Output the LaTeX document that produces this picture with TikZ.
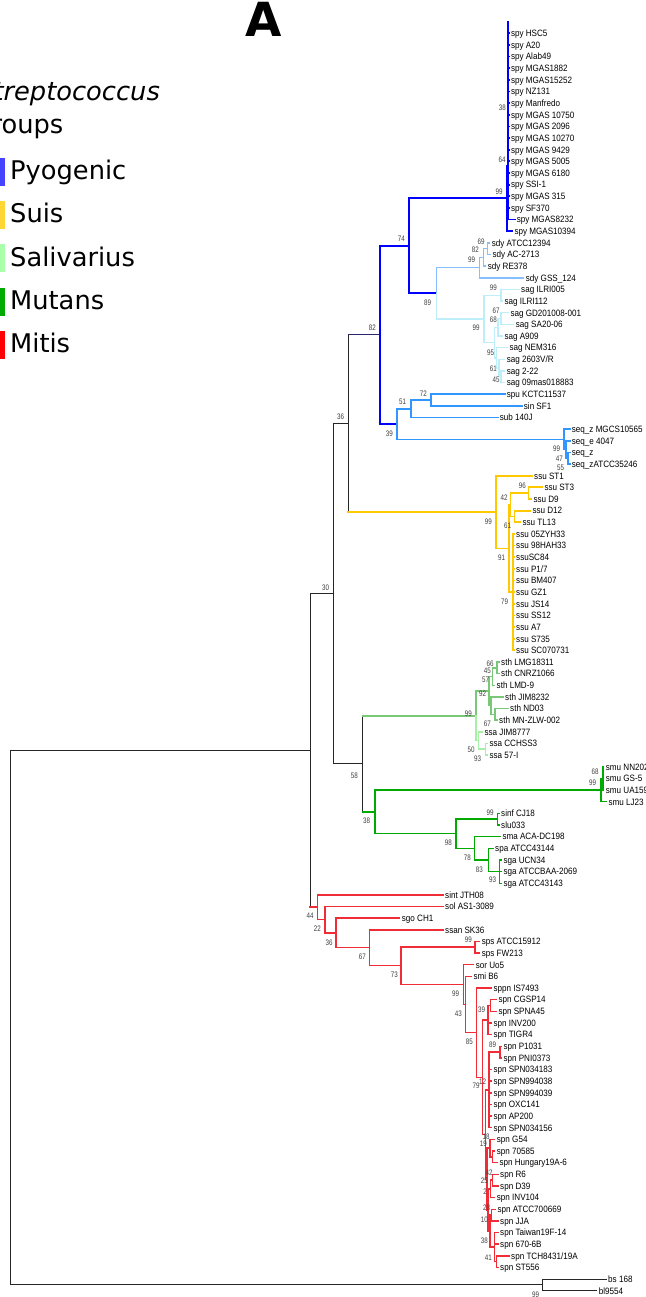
\documentclass[tikz,border=0pt]{standalone}
\usepackage{fontspec}
\setmainfont{DejaVu Sans}
\newfontfamily\leaffont[FakeStretch=0.88]{Liberation Sans}
\newfontfamily\bsfont[FakeStretch=0.78]{Liberation Sans}
\definecolor{cpyo}{RGB}{0,0,255}
\definecolor{cnavy}{RGB}{40,40,110}
\definecolor{csdy}{RGB}{135,190,255}
\definecolor{csag}{RGB}{190,238,250}
\definecolor{cseq}{RGB}{50,150,255}
\definecolor{cssu}{RGB}{255,200,0}
\definecolor{csth}{RGB}{120,200,120}
\definecolor{cssa}{RGB}{165,240,165}
\definecolor{cmut}{RGB}{0,170,0}
\definecolor{cmit}{RGB}{240,45,55}
\definecolor{lgpyo}{RGB}{68,68,255}
\definecolor{lgsui}{RGB}{255,214,51}
\definecolor{lgsal}{RGB}{170,255,170}
\definecolor{lgmut}{RGB}{0,170,0}
\definecolor{lgmit}{RGB}{255,0,0}
\newcommand\LY[1]{(33.3+(#1-1)*11.643)}
\newcommand\tedge[4]{\draw[#3] (#1) -- (#1 |- #2); \draw[#4] (#1 |- #2) -- (#2);}
\newcommand\tleaf[6]{\coordinate (#2) at (#4,{\LY{#3}}); \tedge{#1}{#2}{#5}{#5} \node[lf] (#2-l) at (#2) {#6};}
\newcommand\bsl[3]{\node[bsn] (#1) at (#2) {#3};}
\begin{document}
\begin{tikzpicture}[x=1pt,y=-1pt,
 blk/.style={draw=black!85, line width=1pt, line cap=rect},
 pyo/.style={draw=cpyo, line width=1.8pt, line cap=rect},
 navy/.style={draw=cnavy, line width=1pt, line cap=rect},
 sdy/.style={draw=csdy, line width=1.4pt, line cap=rect},
 sag/.style={draw=csag, line width=1.4pt, line cap=rect},
 seqc/.style={draw=cseq, line width=1.8pt, line cap=rect},
 ssu/.style={draw=cssu, line width=1.8pt, line cap=rect},
 sth/.style={draw=csth, line width=1.5pt, line cap=rect},
 ssa/.style={draw=cssa, line width=1.5pt, line cap=rect},
 mut/.style={draw=cmut, line width=1.4pt, line cap=rect},
 mit/.style={draw=cmit, line width=1.4pt, line cap=rect},
 lf/.style={anchor=west, inner sep=0pt, xshift=2pt, font=\leaffont\fontsize{9.2}{10}\selectfont, text height=6.6pt, text depth=0pt},
 bsn/.style={inner sep=0pt, font=\bsfont\fontsize{8}{8}\selectfont, text height=5.7pt, text depth=0pt, text=black!75},
 legt/.style={anchor=base west, inner sep=0pt, font=\fontsize{25.7}{30}\selectfont},
]
\useasboundingbox (0,0) rectangle (645,1297);
\clip (0,0) rectangle (645,1297);
% ---------- title and legend
\node[anchor=base, inner sep=0pt, font=\bfseries\fontsize{47}{47}\selectfont] (ttl) at (263.5,37) {A};
\node[legt, font=\itshape\fontsize{25.7}{30}\selectfont] (lg0) at (-23,101) {Streptococcus};
\node[legt] (lg00) at (-25,134) {groups};
\fill[lgpyo] (-23,158) rectangle (5,186);
\fill[lgsui] (-23,201) rectangle (5,229);
\fill[lgsal] (-23,244) rectangle (5,272);
\fill[lgmut] (-23,288) rectangle (5,316);
\fill[lgmit] (-23,331) rectangle (5,359);
\node[legt] (lg1) at (10,180) {Pyogenic};
\node[legt] (lg2) at (10,223) {Suis};
\node[legt] (lg3) at (10,266) {Salivarius};
\node[legt] (lg4) at (10,309) {Mutans};
\node[legt] (lg5) at (10,352) {Mitis};
% ---------- internal nodes
\coordinate (root) at (10,1017.6);
\coordinate (out) at (542.3,1284.8);
\coordinate (ing) at (310,750.4);
\coordinate (n30) at (333,593.7);
\coordinate (n36) at (348.3,423.5);
\coordinate (n82) at (380,334.95);
\coordinate (n74) at (409,245.8);
\coordinate (spy99) at (506.7,198.3);
\coordinate (spyM) at (507.7,165.9);
\coordinate (spyTop) at (507.7,21.7);
\coordinate (n89) at (436.3,293.3);
\coordinate (sdy99) at (479.3,267.6);
\coordinate (n82s) at (483.3,257.45);
\coordinate (n69s) at (487.7,248.7);
\coordinate (sag99) at (484,318.9);
\coordinate (sagA) at (501,295.3);
\coordinate (sagB) at (494.5,342.55);
\coordinate (n68s) at (498,327.3);
\coordinate (n67s) at (501,318.55);
\coordinate (n95s) at (496.5,357.8);
\coordinate (n61s) at (499,368.0);
\coordinate (n45s) at (501,376.75);
\coordinate (n39) at (397.3,424.1);
\coordinate (n51) at (410.7,408.75);
\coordinate (n72) at (431,400);
\coordinate (seqR) at (564.3,439.4);
\coordinate (n99q) at (566,449.55);
\coordinate (n47q) at (568,458.3);
\coordinate (ssu99) at (495.7,512.1);
\coordinate (n91) at (509,548.45);
\coordinate (n42u) at (510.5,504.8);
\coordinate (n96) at (528.5,493.15);
\coordinate (n61u) at (514.5,516.4);
\coordinate (n79u) at (513.2,592.1);
\coordinate (n58) at (362.3,763.85);
\coordinate (S99) at (476,715.8);
\coordinate (n57) at (489,691.05);
\coordinate (n45h) at (492.5,676.5);
\coordinate (n66) at (497,667.75);
\coordinate (n92) at (491,705.6);
\coordinate (n67h) at (495,714.3);
\coordinate (n50) at (478.5,740.5);
\coordinate (n93s) at (485.5,749.2);
\coordinate (n38) at (375,811.9);
\coordinate (smu99) at (601,790.1);
\coordinate (smu68) at (603,778.45);
\coordinate (n98) at (456,833.7);
\coordinate (sinf99) at (497.3,819.15);
\coordinate (n78) at (474.3,848.25);
\coordinate (n83) at (488.3,859.9);
\coordinate (n93g) at (499.3,871.55);
\coordinate (n44m) at (317.3,907.1);
\coordinate (n22m) at (325,919.55);
\coordinate (n36m) at (336,932.8);
\coordinate (n67m) at (369.3,947.65);
\coordinate (n73) at (401,965.7);
\coordinate (sps99) at (475,947.05);
\coordinate (n99m) at (463.3,984.4);
\coordinate (n43m) at (465.7,1004.35);
\coordinate (n85) at (476.7,1032.6);
\coordinate (n79m) at (482.5,1077.25);
\coordinate (n39m) at (488,1020.05);
\coordinate (nCS) at (490.5,1005.5);
\coordinate (n12m) at (485.3,1134.45);
\coordinate (n89m) at (488.8,1089.9);
\coordinate (nP) at (500,1052.05);
\coordinate (n19m) at (486.8,1179);
\coordinate (n18) at (490,1148.05);
\coordinate (nH) at (492.3,1156.8);
\coordinate (n2m) at (488,1209.9);
\coordinate (n25m) at (490.3,1188.8);
\coordinate (n42m) at (492.5,1180.05);
\coordinate (n10m) at (489.8,1231);
\coordinate (n28m) at (491.5,1215);
\coordinate (n38m) at (494.5,1247);
\coordinate (n41m) at (496.5,1261.5);
% ---------- internal edges
\tedge{root}{ing}{blk}{blk}
\tedge{root}{out}{blk}{blk}
\tedge{ing}{n30}{blk}{blk}
\tedge{ing}{n44m}{blk}{mit}
\tedge{n30}{n36}{blk}{blk}
\tedge{n30}{n58}{blk}{blk}
\tedge{n36}{n82}{blk}{navy}
\tedge{n36}{ssu99}{blk}{ssu}
\tedge{n82}{n74}{pyo}{pyo}
\tedge{n82}{n39}{pyo}{pyo}
\tedge{n74}{spy99}{pyo}{pyo}
\tedge{n74}{n89}{pyo}{pyo}
\tedge{spy99}{spyM}{pyo}{pyo}
\draw[pyo] (spyM) -- (spyTop);
\tedge{n89}{sdy99}{sdy}{sdy}
\tedge{n89}{sag99}{sag}{sag}
\tedge{sdy99}{n82s}{sdy}{sdy}
\tedge{n82s}{n69s}{sdy}{sdy}
\tedge{sag99}{sagA}{sag}{sag}
\tedge{sag99}{sagB}{sag}{sag}
\tedge{sagB}{n68s}{sag}{sag}
\tedge{sagB}{n95s}{sag}{sag}
\tedge{n68s}{n67s}{sag}{sag}
\tedge{n95s}{n61s}{sag}{sag}
\tedge{n61s}{n45s}{sag}{sag}
\tedge{n39}{n51}{seqc}{seqc}
\tedge{n39}{seqR}{seqc}{seqc}
\tedge{n51}{n72}{seqc}{seqc}
\tedge{seqR}{n99q}{seqc}{seqc}
\tedge{n99q}{n47q}{seqc}{seqc}
\tedge{ssu99}{n91}{ssu}{ssu}
\tedge{n91}{n42u}{ssu}{ssu}
\tedge{n91}{n79u}{ssu}{ssu}
\tedge{n42u}{n96}{ssu}{ssu}
\tedge{n42u}{n61u}{ssu}{ssu}
\tedge{n58}{S99}{blk}{sth}
\tedge{n58}{n38}{blk}{mut}
\tedge{S99}{n57}{sth}{sth}
\tedge{S99}{n50}{ssa}{ssa}
\tedge{n57}{n45h}{sth}{sth}
\tedge{n57}{n92}{sth}{sth}
\tedge{n45h}{n66}{sth}{sth}
\tedge{n92}{n67h}{sth}{sth}
\tedge{n50}{n93s}{ssa}{ssa}
\tedge{n38}{smu99}{mut}{mut}
\tedge{n38}{n98}{mut}{mut}
\tedge{smu99}{smu68}{mut}{mut}
\tedge{n98}{sinf99}{mut}{mut}
\tedge{n98}{n78}{mut}{mut}
\tedge{n78}{n83}{mut}{mut}
\tedge{n83}{n93g}{mut}{mut}
\tedge{n44m}{n22m}{mit}{mit}
\tedge{n22m}{n36m}{mit}{mit}
\tedge{n36m}{n67m}{mit}{mit}
\tedge{n67m}{n73}{mit}{mit}
\tedge{n73}{sps99}{mit}{mit}
\tedge{n73}{n99m}{mit}{mit}
\tedge{n99m}{n43m}{mit}{mit}
\tedge{n43m}{n85}{mit}{mit}
\tedge{n85}{n79m}{mit}{mit}
\tedge{n79m}{n39m}{mit}{mit}
\tedge{n79m}{n12m}{mit}{mit}
\tedge{n39m}{nCS}{mit}{mit}
\tedge{n12m}{n89m}{mit}{mit}
\tedge{n12m}{n19m}{mit}{mit}
\tedge{n89m}{nP}{mit}{mit}
\tedge{n19m}{n18}{mit}{mit}
\tedge{n19m}{n2m}{mit}{mit}
\tedge{n18}{nH}{mit}{mit}
\tedge{n2m}{n25m}{mit}{mit}
\tedge{n2m}{n10m}{mit}{mit}
\tedge{n25m}{n42m}{mit}{mit}
\tedge{n10m}{n28m}{mit}{mit}
\tedge{n10m}{n38m}{mit}{mit}
\tedge{n38m}{n41m}{mit}{mit}
% ---------- leaves
\tleaf{spyM}{l1}{1}{508.8}{pyo}{spy HSC5}
\tleaf{spyM}{l2}{2}{508.8}{pyo}{spy A20}
\tleaf{spyM}{l3}{3}{508.8}{pyo}{spy Alab49}
\tleaf{spyM}{l4}{4}{508.8}{pyo}{spy MGAS1882}
\tleaf{spyM}{l5}{5}{508.8}{pyo}{spy MGAS15252}
\tleaf{spyM}{l6}{6}{508.8}{pyo}{spy NZ131}
\tleaf{spyM}{l7}{7}{508.8}{pyo}{spy Manfredo}
\tleaf{spyM}{l8}{8}{508.8}{pyo}{spy MGAS 10750}
\tleaf{spyM}{l9}{9}{508.8}{pyo}{spy MGAS 2096}
\tleaf{spyM}{l10}{10}{508.8}{pyo}{spy MGAS 10270}
\tleaf{spyM}{l11}{11}{508.8}{pyo}{spy MGAS 9429}
\tleaf{spyM}{l12}{12}{508.8}{pyo}{spy MGAS 5005}
\tleaf{spyM}{l13}{13}{508.8}{pyo}{spy MGAS 6180}
\tleaf{spyM}{l14}{14}{508.8}{pyo}{spy SSI-1}
\tleaf{spyM}{l15}{15}{508.8}{pyo}{spy MGAS 315}
\tleaf{spyM}{l16}{16}{508.8}{pyo}{spy SF370}
\tleaf{spyM}{l17}{17}{514.7}{pyo}{spy MGAS8232}
\tleaf{spy99}{l18}{18}{512.3}{pyo}{spy MGAS10394}
\tleaf{n69s}{l19}{19}{489.7}{sdy}{sdy ATCC12394}
\tleaf{n69s}{l20}{20}{490.3}{sdy}{sdy AC-2713}
\tleaf{n82s}{l21}{21}{485.7}{sdy}{sdy RE378}
\tleaf{sdy99}{l22}{22}{523.7}{sdy}{sdy GSS\_124}
\tleaf{sagA}{l23}{23}{519}{sag}{sag ILRI005}
\tleaf{sagA}{l24}{24}{502.3}{sag}{sag ILRI112}
\tleaf{n67s}{l25}{25}{508.3}{sag}{sag GD201008-001}
\tleaf{n67s}{l26}{26}{513.7}{sag}{sag SA20-06}
\tleaf{n68s}{l27}{27}{502.3}{sag}{sag A909}
\tleaf{n95s}{l28}{28}{507.3}{sag}{sag NEM316}
\tleaf{n61s}{l29}{29}{504.7}{sag}{sag 2603V/R}
\tleaf{n45s}{l30}{30}{504.7}{sag}{sag 2-22}
\tleaf{n45s}{l31}{31}{504.7}{sag}{sag 09mas018883}
\tleaf{n72}{l32}{32}{504.7}{seqc}{spu KCTC11537}
\tleaf{n72}{l33}{33}{521.7}{seqc}{sin SF1}
\tleaf{n51}{l34}{34}{497.7}{seqc}{sub 140J}
\tleaf{seqR}{l35}{35}{569.7}{seqc}{seq\_z MGCS10565}
\tleaf{n99q}{l36}{36}{569.7}{seqc}{seq\_e 4047}
\tleaf{n47q}{l37}{37}{569.7}{seqc}{seq\_z}
\tleaf{n47q}{l38}{38}{569.7}{seqc}{seq\_zATCC35246}
\tleaf{ssu99}{l39}{39}{532}{ssu}{ssu ST1}
\tleaf{n96}{l40}{40}{542.3}{ssu}{ssu ST3}
\tleaf{n96}{l41}{41}{531.3}{ssu}{ssu D9}
\tleaf{n61u}{l42}{42}{530.3}{ssu}{ssu D12}
\tleaf{n61u}{l43}{43}{520.3}{ssu}{ssu TL13}
\tleaf{n79u}{l44}{44}{514}{ssu}{ssu 05ZYH33}
\tleaf{n79u}{l45}{45}{514}{ssu}{ssu 98HAH33}
\tleaf{n79u}{l46}{46}{514}{ssu}{ssuSC84}
\tleaf{n79u}{l47}{47}{514}{ssu}{ssu P1/7}
\tleaf{n79u}{l48}{48}{514}{ssu}{ssu BM407}
\tleaf{n79u}{l49}{49}{514}{ssu}{ssu GZ1}
\tleaf{n79u}{l50}{50}{514}{ssu}{ssu JS14}
\tleaf{n79u}{l51}{51}{514}{ssu}{ssu SS12}
\tleaf{n79u}{l52}{52}{514}{ssu}{ssu A7}
\tleaf{n79u}{l53}{53}{514}{ssu}{ssu S735}
\tleaf{n79u}{l54}{54}{514}{ssu}{ssu SC070731}
\tleaf{n66}{l55}{55}{499}{sth}{sth LMG18311}
\tleaf{n66}{l56}{56}{499}{sth}{sth CNRZ1066}
\tleaf{n45h}{l57}{57}{494.5}{sth}{sth LMD-9}
\tleaf{n92}{l58}{58}{503}{sth}{sth JIM8232}
\tleaf{n67h}{l59}{59}{508}{sth}{sth ND03}
\tleaf{n67h}{l60}{60}{497}{sth}{sth MN-ZLW-002}
\tleaf{n50}{l61}{61}{482.3}{ssa}{ssa JIM8777}
\tleaf{n93s}{l62}{62}{487.3}{ssa}{ssa CCHSS3}
\tleaf{n93s}{l63}{63}{487.3}{ssa}{ssa 57-I}
\tleaf{smu68}{l64}{64}{603.7}{mut}{smu NN2025}
\tleaf{smu68}{l65}{65}{603.7}{mut}{smu GS-5}
\tleaf{smu68}{l66}{66}{603.7}{mut}{smu UA159}
\tleaf{smu99}{l67}{67}{606.3}{mut}{smu LJ23}
\tleaf{sinf99}{l68}{68}{499}{mut}{sinf CJ18}
\tleaf{sinf99}{l69}{69}{499}{mut}{slu033}
\tleaf{n78}{l70}{70}{500.3}{mut}{sma ACA-DC198}
\tleaf{n83}{l71}{71}{493}{mut}{spa ATCC43144}
\tleaf{n93g}{l72}{72}{501.3}{mut}{sga UCN34}
\tleaf{n93g}{l73}{73}{501.3}{mut}{sga ATCCBAA-2069}
\tleaf{n93g}{l74}{74}{501.3}{mut}{sga ATCC43143}
\tleaf{n44m}{l75}{75}{443}{mit}{sint JTH08}
\tleaf{n22m}{l76}{76}{443}{mit}{sol AS1-3089}
\tleaf{n36m}{l77}{77}{399.7}{mit}{sgo CH1}
\tleaf{n67m}{l78}{78}{443}{mit}{ssan SK36}
\tleaf{sps99}{l79}{79}{479.7}{mit}{sps ATCC15912}
\tleaf{sps99}{l80}{80}{479.7}{mit}{sps FW213}
\tleaf{n99m}{l81}{81}{473.7}{mit}{sor Uo5}
\tleaf{n43m}{l82}{82}{471.3}{mit}{smi B6}
\tleaf{n85}{l83}{83}{491.3}{mit}{sppn IS7493}
\tleaf{nCS}{l84}{84}{496.3}{mit}{spn CGSP14}
\tleaf{nCS}{l85}{85}{496.3}{mit}{spn SPNA45}
\tleaf{n39m}{l86}{86}{491.3}{mit}{spn INV200}
\tleaf{n39m}{l87}{87}{491.3}{mit}{spn TIGR4}
\tleaf{nP}{l88}{88}{501.3}{mit}{spn P1031}
\tleaf{nP}{l89}{89}{501.3}{mit}{spn PNI0373}
\tleaf{n89m}{l90}{90}{491.3}{mit}{spn SPN034183}
\tleaf{n89m}{l91}{91}{491.3}{mit}{spn SPN994038}
\tleaf{n89m}{l92}{92}{491.3}{mit}{spn SPN994039}
\tleaf{n89m}{l93}{93}{491.3}{mit}{spn OXC141}
\tleaf{n89m}{l94}{94}{491.3}{mit}{spn AP200}
\tleaf{n89m}{l95}{95}{491.3}{mit}{spn SPN034156}
\tleaf{n18}{l96}{96}{494.7}{mit}{spn G54}
\tleaf{nH}{l97}{97}{494.7}{mit}{spn 70585}
\tleaf{nH}{l98}{98}{497.3}{mit}{spn Hungary19A-6}
\tleaf{n42m}{l99}{99}{498}{mit}{spn R6}
\tleaf{n42m}{l100}{100}{498}{mit}{spn D39}
\tleaf{n25m}{l101}{101}{494.7}{mit}{spn INV104}
\tleaf{n28m}{l102}{102}{495.3}{mit}{spn ATCC700669}
\tleaf{n28m}{l103}{103}{498}{mit}{spn JJA}
\tleaf{n38m}{l104}{104}{498}{mit}{spn Taiwan19F-14}
\tleaf{n38m}{l105}{105}{498}{mit}{spn 670-6B}
\tleaf{n41m}{l106}{106}{509}{mit}{spn TCH8431/19A}
\tleaf{n41m}{l107}{107}{498}{mit}{spn ST556}
\tleaf{out}{l108}{108}{606}{blk}{bs 168}
\tleaf{out}{l109}{109}{596.7}{blk}{bl9554}
% ---------- bootstrap values
\bsl{b1}{502.3,107.7}{38}
\bsl{b2}{502,160}{64}
\bsl{b3}{499,191.7}{99}
\bsl{b4}{401.3,239}{74}
\bsl{b5}{372.3,327.7}{82}
\bsl{b6}{340.7,417}{36}
\bsl{b7}{325.7,587.7}{30}
\bsl{b8}{481,241.7}{69}
\bsl{b9}{475.3,249.3}{82}
\bsl{b10}{471.7,259.7}{99}
\bsl{b11}{427.7,302.7}{89}
\bsl{b12}{493.3,287.3}{99}
\bsl{b13}{496,311}{67}
\bsl{b14}{493.3,320}{68}
\bsl{b15}{476,327.7}{99}
\bsl{b16}{490.7,352.3}{95}
\bsl{b17}{493.3,369}{61}
\bsl{b18}{496,380}{45}
\bsl{b19}{423.3,393.3}{72}
\bsl{b20}{402.7,401.7}{51}
\bsl{b21}{389.3,433.3}{39}
\bsl{b22}{556.7,448.3}{99}
\bsl{b23}{559.3,458.3}{47}
\bsl{b24}{560.7,467.7}{55}
\bsl{b25}{522.3,485.7}{96}
\bsl{b26}{504,497.7}{42}
\bsl{b27}{488.3,521.7}{99}
\bsl{b28}{507.7,526}{61}
\bsl{b29}{501.7,557.7}{91}
\bsl{b30}{504.7,601.7}{79}
\bsl{b31}{490,664}{66}
\bsl{b32}{487.3,670.5}{45}
\bsl{b33}{485.7,679.3}{57}
\bsl{b34}{482.7,693.3}{92}
\bsl{b35}{468.3,713.3}{99}
\bsl{b36}{487.3,723.3}{67}
\bsl{b37}{471,749.3}{50}
\bsl{b38}{477.7,758.3}{93}
\bsl{b39}{354.3,776}{58}
\bsl{b40}{366.7,820.7}{38}
\bsl{b41}{595,771.7}{68}
\bsl{b42}{592.7,782.7}{99}
\bsl{b43}{490,812.3}{99}
\bsl{b44}{448.3,842.7}{98}
\bsl{b45}{467.3,857.3}{78}
\bsl{b46}{479.3,869.3}{83}
\bsl{b47}{492.7,880}{93}
\bsl{b48}{310,916}{44}
\bsl{b49}{317.3,929}{22}
\bsl{b50}{329,942.7}{36}
\bsl{b51}{362.3,956.7}{67}
\bsl{b52}{394.3,975}{73}
\bsl{b53}{468.3,940}{99}
\bsl{b54}{455.7,993.3}{99}
\bsl{b55}{458.3,1013.3}{43}
\bsl{b56}{469.3,1041.7}{85}
\bsl{b57}{481.5,1009.3}{39}
\bsl{b58}{492.7,1044.3}{89}
\bsl{b59}{476,1086}{79}
\bsl{b60}{482.7,1081.7}{12}
\bsl{b61}{486,1137}{18}
\bsl{b62}{483.3,1144}{19}
\bsl{b63}{489,1172.3}{42}
\bsl{b64}{484.3,1180.7}{25}
\bsl{b65}{485,1191.7}{2}
\bsl{b66}{486.7,1207.7}{28}
\bsl{b67}{484.3,1220}{10}
\bsl{b68}{484.3,1240.7}{38}
\bsl{b69}{488.3,1257.3}{41}
\bsl{b70}{535.7,1295}{99}
\end{tikzpicture}
\end{document}
